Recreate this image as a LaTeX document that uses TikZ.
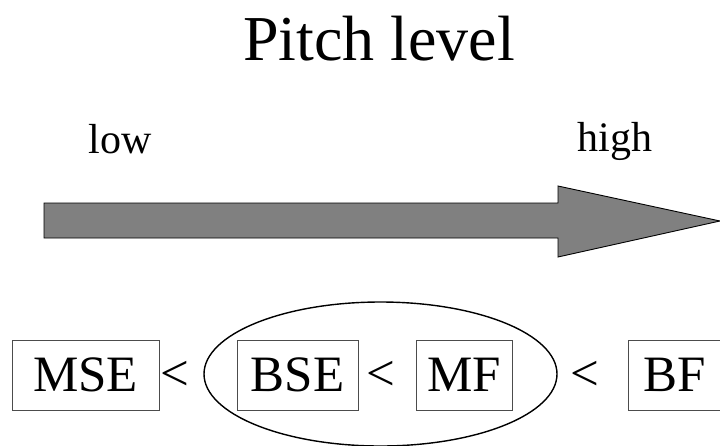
\documentclass[tikz,border=0pt]{standalone}
\usepackage{fontspec}
\setmainfont{Liberation Serif}
\newfontfamily\tnr{Liberation Serif}
\newcommand\fsT{\tnr\fontsize{64}{64}\selectfont}
\newcommand\fsL{\tnr\fontsize{42}{42}\selectfont}
\newcommand\fsB{\tnr\fontsize{51}{51}\selectfont}
\usetikzlibrary{shapes.geometric}
\begin{document}
\begin{tikzpicture}[x=1pt,y=-1pt,
  title/.style={inner sep=0pt, anchor=base},
  lbl/.style={inner sep=0pt, anchor=base},
  box/.style={draw=black!70, line width=0.9pt, inner sep=0pt, minimum height=70pt},
  lt/.style={inner sep=0pt},
  grp/.style={draw=black, line width=1.4pt, ellipse, inner sep=0pt, minimum width=353pt, minimum height=144pt},
  bigarrow/.style={draw=black, line width=0.9pt, fill=black!50, line join=miter}]
\useasboundingbox (0,0) rectangle (720,445);
\node[title] (t) at (379,60) {\fsT Pitch level};
\node[lbl] (low) at (120,153) {\fsL low};
\node[lbl] (high) at (615,151) {\fsL high};
\draw[bigarrow] (44,203) -- (558,203) -- (558,186) -- (720,221) -- (558,257) -- (558,238) -- (44,238) -- cycle;
\node[grp] (g) at (380.5,374) {};
\node[box, minimum width=147pt] (mse) at (85.5,375) {\fsB MSE};
\node[box, minimum width=121pt] (bse) at (297.5,375) {\fsB BSE};
\node[box, minimum width=96pt] (mf) at (464,375) {\fsB MF};
\node[box, minimum width=94pt] (bf) at (675,375) {\fsB BF};
\node[lt] (lt1) at (174.5,376) {\fsB <};
\node[lt] (lt2) at (380.5,376) {\fsB <};
\node[lt] (lt3) at (585,376) {\fsB <};
\end{tikzpicture}
\end{document}
